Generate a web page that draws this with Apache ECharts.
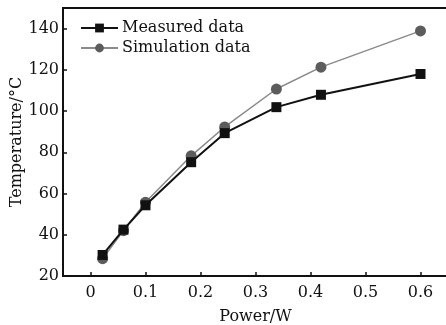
<!DOCTYPE html>
<html>
<head>
<meta charset="utf-8">
<script src="https://cdn.jsdelivr.net/npm/echarts@6/dist/echarts.min.js"></script>
<style>
html,body{margin:0;padding:0;background:#fff;}
#chart{width:446px;height:325px;}
</style>
</head>
<body>
<div id="chart"></div>
<script>
const power = [0.022, 0.06, 0.1, 0.183, 0.244, 0.338, 0.419, 0.6];
const measured = [30.2, 42.5, 54.3, 75.2, 89.3, 101.9, 107.9, 118.0];
const simulation = [28.4, 42.0, 55.8, 78.3, 92.3, 110.7, 121.3, 138.9];
const xTicks = [0, 0.1, 0.2, 0.3, 0.4, 0.5, 0.6];
const yTicks = [20, 40, 60, 80, 100, 120, 140];
const seriesNames = ['Measured data', 'Simulation data'];

const font = 'DejaVu Serif';
const inList = (list, v) => list.some(t => Math.abs(t - v) < 1e-6);
const chart = echarts.init(document.getElementById('chart'), null, {renderer: 'canvas'});
chart.setOption({
  backgroundColor: '#fff',
  animation: false,
  grid: {left: 63, top: 8, right: -2, bottom: 49, show: true, borderColor: '#111', borderWidth: 2,
    containLabel: false, outerBoundsMode: 'none'},
  legend: {
    orient: 'vertical', left: 80, top: 20, itemGap: 4, padding: 0,
    itemWidth: 37, itemHeight: 11,
    textStyle: {fontFamily: font, fontSize: 16, color: '#111', padding: [0,0,0,-1]},
    data: seriesNames
  },
  xAxis: {
    type: 'value', min: -0.05, max: 0.65,
    name: 'Power/W', nameLocation: 'middle', nameGap: 33, nameMoveOverlap: false,
    nameTextStyle: {fontFamily: font, fontSize: 16, color: '#111'},
    axisLine: {show: true, onZero: false, lineStyle: {color: '#111', width: 2}},
    axisTick: {show: true, inside: true, length: 4, lineStyle: {color: '#111', width: 1.5}, customValues: xTicks},
    axisLabel: {fontFamily: font, fontSize: 16, color: '#111', margin: 9, customValues: xTicks,
      formatter: v => inList(xTicks, v) ? String(Math.round(v * 10) / 10) : ''},
    splitLine: {show: false}
  },
  yAxis: {
    type: 'value', min: 20, max: 150,
    name: 'Temperature/°C', nameLocation: 'middle', nameGap: 38, nameMoveOverlap: false,
    nameTextStyle: {fontFamily: font, fontSize: 16, color: '#111'},
    axisLine: {show: true, onZero: false, lineStyle: {color: '#111', width: 2}},
    axisTick: {show: true, inside: true, length: 4, lineStyle: {color: '#111', width: 1.5}, customValues: yTicks},
    axisLabel: {fontFamily: font, fontSize: 16, color: '#111', margin: 4, customValues: yTicks,
      formatter: v => inList(yTicks, v) ? String(v) : ''},
    splitLine: {show: false}
  },
  series: [
    {
      name: seriesNames[1], type: 'line',
      data: power.map((p, i) => [p, simulation[i]]),
      symbol: 'circle', symbolSize: 11,
      lineStyle: {color: '#8a8a8a', width: 1.5},
      itemStyle: {color: '#5c5c5c'},
      z: 2
    },
    {
      name: seriesNames[0], type: 'line',
      data: power.map((p, i) => [p, measured[i]]),
      symbol: 'rect', symbolSize: 10,
      lineStyle: {color: '#111', width: 2},
      itemStyle: {color: '#111'},
      z: 3
    }
  ]
});
</script>
</body>
</html>
